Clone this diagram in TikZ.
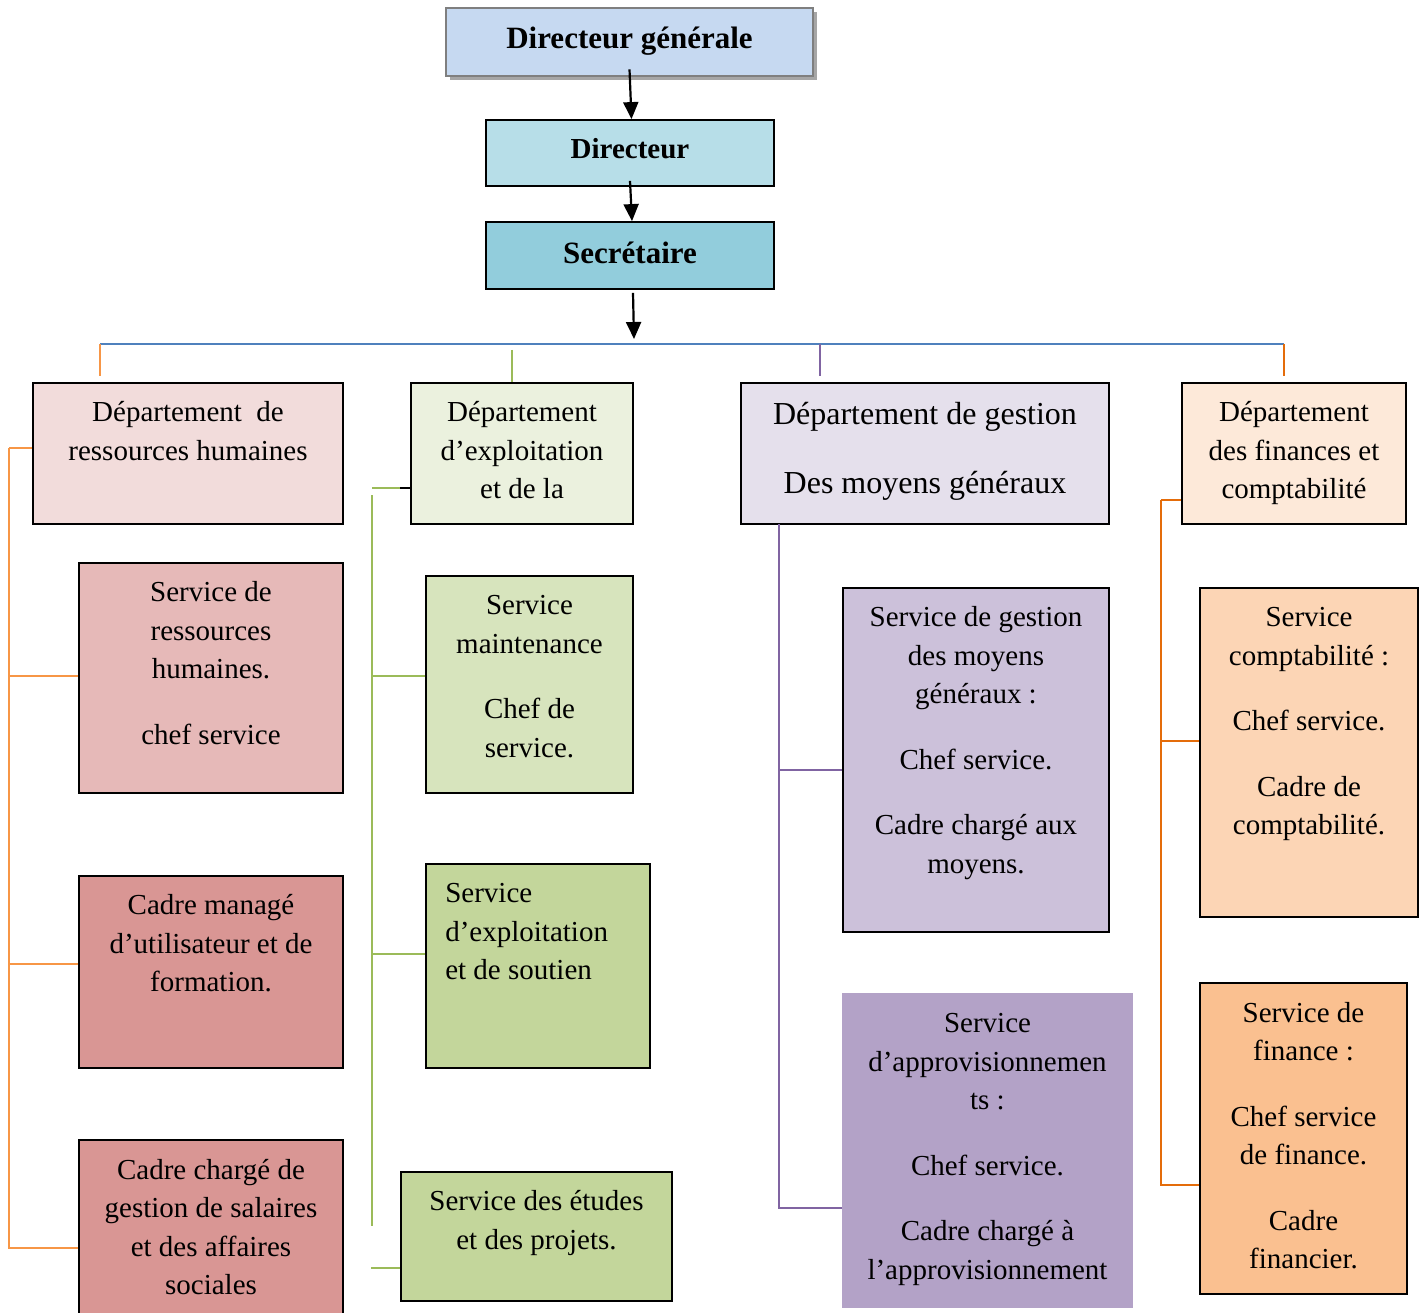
\documentclass[tikz,border=0pt]{standalone}
\usepackage{fontspec}
\setmainfont{Liberation Serif}
\usetikzlibrary{arrows.meta,shadows}
\definecolor{cTop}{HTML}{C6D9F1}
\definecolor{cTopB}{HTML}{7F7F7F}
\definecolor{cDir}{HTML}{B7DEE8}
\definecolor{cSec}{HTML}{92CDDC}
\definecolor{cDa}{HTML}{F2DCDB}
\definecolor{cDb}{HTML}{EBF1DE}
\definecolor{cDc}{HTML}{E5E0EC}
\definecolor{cDd}{HTML}{FDE9D9}
\definecolor{cSa}{HTML}{E6B9B8}
\definecolor{cSb}{HTML}{D99694}
\definecolor{cGa}{HTML}{D7E4BD}
\definecolor{cGb}{HTML}{C3D69B}
\definecolor{cPa}{HTML}{CCC1DA}
\definecolor{cPb}{HTML}{B3A2C7}
\definecolor{cOa}{HTML}{FCD5B5}
\definecolor{cOb}{HTML}{FAC090}
\definecolor{lBlue}{HTML}{4F81BD}
\definecolor{lOrange}{HTML}{F79646}
\definecolor{lOrangeD}{HTML}{E46C0A}
\definecolor{lGreen}{HTML}{9BBB59}
\definecolor{lPurple}{HTML}{8064A2}
\begin{document}
\begin{tikzpicture}[x=1pt,y=-1pt,
  box/.style={draw=black, line width=1.8pt, inner sep=0pt, rectangle},
  txt/.style={font=\fontsize{29}{38.5}\selectfont, align=center, inner sep=0pt, anchor=north},
  ttl/.style={font=\fontsize{31}{36}\selectfont\bfseries, inner sep=0pt},
  arr/.style={line width=2.2pt, -{Triangle[length=17pt,width=15pt]}},
  conn/.style={line width=2pt}]
\useasboundingbox (0,0) rectangle (1427,1313);
\fill[white] (0,0) rectangle (1427,1313);

% top hierarchy
\node[box, draw=cTopB, line width=2.6pt, fill=cTop, minimum width=367pt, minimum height=68pt,
  drop shadow={shadow xshift=4pt, shadow yshift=-4pt, fill=black!35, opacity=1}] (top) at (629.5,42) {};
\node[ttl] (topt) at ([yshift=1pt]top.center) {Directeur générale};
\node[box, fill=cDir, minimum width=288pt, minimum height=66pt] (dir) at (630,153) {};
\node[ttl, font=\fontsize{29}{34}\selectfont\bfseries] (dirt) at ([yshift=4pt]dir.center) {Directeur};
\node[box, fill=cSec, minimum width=288pt, minimum height=67pt] (sec) at (630,255.5) {};
\node[ttl] (sect) at ([yshift=3pt]sec.center) {Secrétaire};

% bus
\coordinate (busL) at (100,344);
\coordinate (busR) at (1284,344);
\coordinate (busA) at (634,339);
\draw[arr] ([yshift=8pt]top.south) -- ([xshift=1.5pt]dir.north);
\draw[arr] ([yshift=6pt]dir.south) -- ([xshift=2pt]sec.north);
\draw[arr] ([xshift=3pt,yshift=-3pt]sec.south) -- (busA);
\draw[conn, lBlue, line width=2.4pt] (busL) -- (busR);

% departments
\node[box, fill=cDa, minimum width=310pt, minimum height=141pt] (d1) at (188,453.5) {};
\node[box, fill=cDb, minimum width=222pt, minimum height=141pt] (d2) at (522,453.5) {};
\node[box, fill=cDc, minimum width=368pt, minimum height=141pt] (d3) at (925,453.5) {};
\node[box, fill=cDd, minimum width=224pt, minimum height=141pt] (d4) at (1294,453.5) {};
\node[txt] (d1t) at ([yshift=-12.5pt]d1.north) {\strut Département\ \ de\\ressources humaines};
\node[txt] (d2t) at ([yshift=-12.5pt]d2.north) {\strut Département\\d’exploitation\\et de la};
\node[txt, font=\fontsize{32}{38.5}\selectfont] (d3t) at ([yshift=-15pt]d3.north) {\strut Département de gestion\\[31pt]Des moyens généraux};
\node[txt] (d4t) at ([yshift=-12.5pt]d4.north) {\strut Département\\des finances et\\comptabilité};

% drops from bus
\draw[conn, lOrange] (busL) -- (100,376);
\draw[conn, lGreen] (512,350) -- (d2.north -| 512,0);
\draw[conn, lPurple] (820,344) -- (820,376);
\draw[conn, lOrangeD] (busR) -- (1284,376);

% RH services
\node[box, fill=cSa, minimum width=264pt, minimum height=230pt] (s1) at (211,678) {};
\node[box, fill=cSb, minimum width=264pt, minimum height=192pt] (s2) at (211,972) {};
\node[box, fill=cSb, minimum width=264pt, minimum height=180pt] (s3) at (211,1230) {};
\node[txt] (s1t) at ([yshift=-12.5pt]s1.north) {\strut Service de\\ressources\\humaines.\\[27pt]chef service};
\node[txt] (s2t) at ([yshift=-12.5pt]s2.north) {\strut Cadre managé\\d’utilisateur et de\\formation.};
\node[txt] (s3t) at ([yshift=-13pt]s3.north) {\strut Cadre chargé de\\gestion de salaires\\et des affaires\\sociales};
\coordinate (lcT) at (9,448);
\coordinate (lcB) at (9,1248);
\draw[conn, lOrange] (lcT) -- (lcB);
\draw[conn, lOrange] (lcT) -- (lcT -| d1.west);
\draw[conn, lOrange] ([yshift=2pt]s1.west) -- ++(-70,0);
\draw[conn, lOrange] ([yshift=8pt]s2.west) -- ++(-70,0);
\draw[conn, lOrange] ([yshift=-18pt]s3.west) -- ++(-70,0);

% exploitation services
\node[box, fill=cGa, minimum width=207pt, minimum height=217pt] (g1) at (529.5,684.5) {};
\node[box, fill=cGb, minimum width=224pt, minimum height=204pt] (g2) at (538,966) {};
\node[box, fill=cGb, minimum width=271pt, minimum height=129pt] (g3) at (536.5,1236.5) {};
\node[txt] (g1t) at ([yshift=-12.5pt]g1.north) {\strut Service\\maintenance\\[27pt]Chef de\\service.};
\node[txt, align=left, anchor=north west] (g2t) at ([xshift=20pt,yshift=-12.5pt]g2.north west) {\strut Service\\d’exploitation\\et de soutien};
\node[txt] (g3t) at ([yshift=-12.5pt]g3.north) {\strut Service des études\\et des projets.};
\coordinate (gcT) at (372,488);
\coordinate (gcV) at (372,495);
\coordinate (gcB) at (372,1226);
\coordinate (gcK) at (400,488);
\draw[conn, lGreen] (gcV) -- (gcB);
\draw[conn, lGreen] (gcT) -- (gcK);
\draw[conn, black] (gcK) -- (gcK -| d2.west);
\draw[conn, lGreen] ([yshift=8.5pt]g1.west) -- ++(-54,0);
\draw[conn, lGreen] ([yshift=12pt]g2.west) -- ++(-54,0);
\draw[conn, lGreen] ([yshift=-31.5pt]g3.west) -- ++(-29,0);

% moyens generaux services
\node[box, fill=cPa, minimum width=266pt, minimum height=344pt] (p1) at (976,760) {};
\node[box, draw=cPb, fill=cPb, minimum width=289pt, minimum height=313pt] (p2) at (987.5,1150.5) {};
\node[txt] (p1t) at ([yshift=-12.5pt]p1.north) {\strut Service de gestion\\des moyens\\généraux :\\[27pt]Chef service.\\[27pt]Cadre chargé aux\\moyens.};
\node[txt] (p2t) at ([yshift=-12.5pt]p2.north) {\strut Service\\d’approvisionnemen\\ts :\\[27pt]Chef service.\\[27pt]Cadre chargé à\\l’approvisionnement};
\coordinate (pcT) at (779,524);
\coordinate (pcB) at (779,1208);
\draw[conn, lPurple] (pcT) -- (pcB);
\draw[conn, lPurple] ([yshift=-10pt]p1.west) -- ++(-64,0);
\draw[conn, lPurple] ([yshift=-57.5pt]p2.west) -- ++(-64,0);

% finances services
\node[box, fill=cOa, minimum width=218pt, minimum height=329pt] (o1) at (1309,752.5) {};
\node[box, fill=cOb, minimum width=207pt, minimum height=311pt] (o2) at (1303.5,1138.5) {};
\node[txt] (o1t) at ([yshift=-12.5pt]o1.north) {\strut Service\\comptabilité :\\[27pt]Chef service.\\[27pt]Cadre de\\comptabilité.};
\node[txt] (o2t) at ([yshift=-13pt]o2.north) {\strut Service de\\finance :\\[27pt]Chef service\\de finance.\\[27pt]Cadre\\financier.};
\coordinate (ocT) at (1161,500);
\coordinate (ocB) at (1161,1185);
\draw[conn, lOrangeD] (ocT) -- (ocB);
\draw[conn, lOrangeD] (ocT) -- (ocT -| d4.west);
\draw[conn, lOrangeD] ([yshift=11.5pt]o1.west) -- ++(-39,0);
\draw[conn, lOrangeD] ([yshift=-46.5pt]o2.west) -- ++(-39,0);
\end{tikzpicture}
\end{document}
